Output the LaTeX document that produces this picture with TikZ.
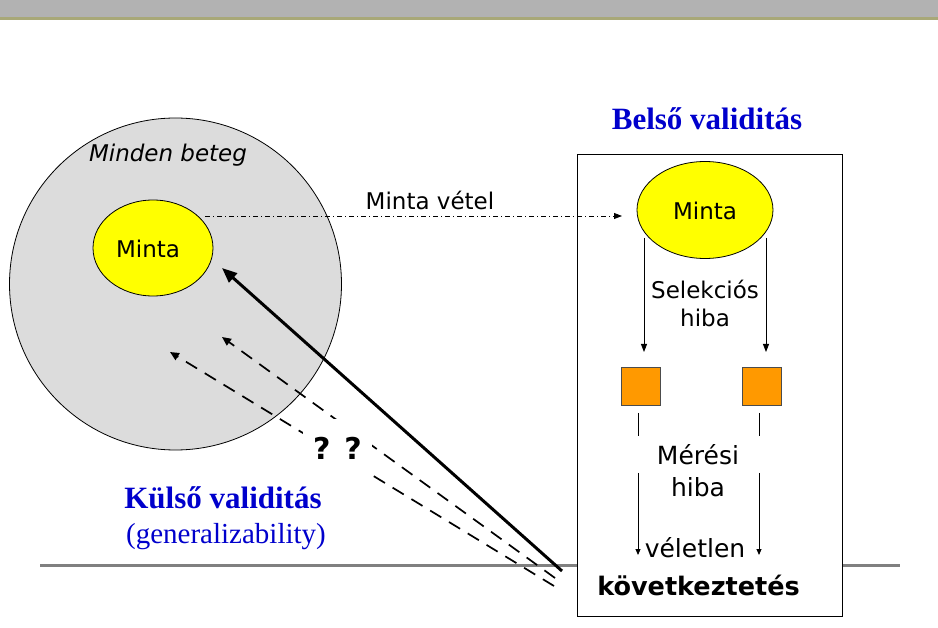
\documentclass[tikz,border=0pt]{standalone}
\usepackage{fontspec}
\setmainfont{DejaVu Sans}
\newfontfamily\bluefont{Liberation Serif}
\usetikzlibrary{arrows.meta,shapes.geometric}
\definecolor{bargray}{HTML}{B2B2B2}
\definecolor{barolive}{HTML}{A8A878}
\definecolor{circgray}{HTML}{DCDCDC}
\definecolor{myyellow}{HTML}{FFFF00}
\definecolor{myorange}{HTML}{FF9900}
\definecolor{myblue}{HTML}{0000CC}
\definecolor{rulegray}{HTML}{808080}
\tikzset{
  txt/.style={inner sep=0pt, align=center, font=\fontsize{23}{28}\selectfont},
  bigtxt/.style={inner sep=0pt, align=center, font=\fontsize{25}{32}\selectfont},
  bluetitle/.style={inner sep=0pt, text=myblue, font=\bluefont\bfseries\fontsize{31}{36}\selectfont},
  bluesub/.style={inner sep=0pt, text=myblue, font=\bluefont\fontsize{29}{34}\selectfont},
  yellipse/.style={ellipse, draw, fill=myyellow, line width=0.8pt, inner sep=0pt},
  obox/.style={draw=black!70, fill=myorange, line width=0.8pt, inner sep=0pt},
  thinarrow/.style={line width=0.9pt, -{Triangle[length=8pt,width=6pt]}},
  smallarrow/.style={line width=0.9pt, -{Triangle[length=6pt,width=5pt]}},
  dasharrow/.style={line width=1.7pt, dash pattern=on 13pt off 9pt, -{Triangle[length=9pt,width=8pt]}},
  solidarrow/.style={line width=3pt, -{Triangle[length=15pt,width=12pt]}},
  sampleline/.style={line width=0.9pt, dash pattern=on 5pt off 3pt on 1pt off 3pt, -{Triangle[length=8pt,width=6pt]}},
}
\begin{document}
\begin{tikzpicture}[x=1pt,y=-1pt]
\useasboundingbox (0,0) rectangle (938,628);
% top bar
\fill[bargray] (0,0) rectangle (938,18);
\fill[barolive] (0,17.5) rectangle (938,20);
% population circle
\node[circle, draw, fill=circgray, line width=0.8pt, minimum size=332pt, inner sep=0pt] (pop) at (175.5,284) {};
\node[txt, font=\itshape\fontsize{23}{28}\selectfont] (minden) at (168,155) {Minden beteg};
\node[yellipse, minimum width=120pt, minimum height=96pt] (mleft) at (153,248) {};
\node[txt] (mlefttxt) at (148,249) {Minta};
% horizontal gray rule
\coordinate (rulel) at (40,565);
\coordinate (ruler) at (900,565);
\draw[rulegray, line width=3pt] (rulel) -- (ruler);
% right box
\node[draw, fill=white, line width=1pt, minimum width=265pt, minimum height=461pt, inner sep=0pt] (box) at (709.5,385.5) {};
\node[bluetitle] (belso) at (707,119) {Belső validitás};
\node[yellipse, minimum width=136pt, minimum height=97pt] (mright) at (705,210) {};
\node[txt] (mrighttxt) at (705,211) {Minta};
% sample line
\coordinate (mvs) at (205,216);
\coordinate (mve) at (622,216);
\draw[sampleline] (mvs) -- (mve);
\node[txt] (mvtxt) at (430,200) {Minta vétel};
% selection arrows
\coordinate (s1a) at (644,238);
\coordinate (s2a) at (766,238);
\node[obox, minimum width=39pt, minimum height=38pt] (sq1) at (640.5,386) {};
\node[obox, minimum width=39pt, minimum height=38pt] (sq2) at (761.5,386) {};
\coordinate (s1b) at (644,352);
\coordinate (s2b) at (766,352);
\draw[thinarrow] (s1a) -- (s1b);
\draw[thinarrow] (s2a) -- (s2b);
\node[txt] (selek) at (705,303) {Selekciós\\hiba};
% measurement
\coordinate (m1a) at (638,413);
\coordinate (m1b) at (638,436);
\coordinate (m2a) at (759,413);
\coordinate (m2b) at (759,436);
\draw[line width=0.9pt] (m1a) -- (m1b);
\draw[line width=0.9pt] (m2a) -- (m2b);
\node[bigtxt] (meres) at (698,471) {Mérési\\hiba};
\coordinate (r1a) at (638,473);
\coordinate (r1b) at (638,555);
\coordinate (r2a) at (759,473);
\coordinate (r2b) at (759,555);
\draw[smallarrow] (r1a) -- (r1b);
\draw[smallarrow] (r2a) -- (r2b);
\node[bigtxt] (veletlen) at (695,548) {véletlen};
\node[bigtxt, font=\bfseries\fontsize{25.5}{30}\selectfont] (kov) at (698.5,585) {következtetés};
% external validity arrows
\coordinate (d1s) at (555,578);
\coordinate (d1e) at (222,337);
\coordinate (d2s) at (554,586);
\coordinate (d2e) at (170,352);
\coordinate (ss) at (562,571);
\coordinate (se) at (222,268);
\draw[dasharrow] (d1s) -- (d1e);
\draw[dasharrow] (d2s) -- (d2e);
\draw[solidarrow] (ss) -- (se);
\node[fill=white, inner sep=0pt, minimum width=69pt, minimum height=58pt, font=\bfseries\fontsize{30}{34}\selectfont] (qq) at (337.5,448) {? ?};
\node[bluetitle] (kulso) at (223,498) {Külső validitás};
\node[bluesub] (gen) at (226,537) {(generalizability)};
\end{tikzpicture}
\end{document}
